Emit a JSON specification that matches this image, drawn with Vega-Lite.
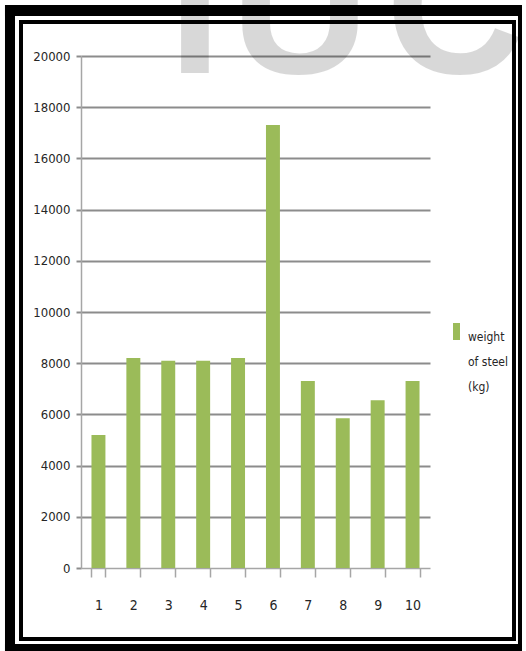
{
  "$schema": "https://vega.github.io/schema/vega-lite/v6.json",
  "width": 349,
  "height": 512,
  "autosize": "none",
  "padding": {"left": 81, "top": 56, "right": 96, "bottom": 83},
  "background": "white",
  "config": {
    "view": {"stroke": null},
    "style": {"guide-label": {"lineHeight": 25}}
  },
  "data": {
    "values": [
      {"n": 1, "w": 5200, "series": "weight of steel (kg)"},
      {"n": 2, "w": 8200, "series": "weight of steel (kg)"},
      {"n": 3, "w": 8100, "series": "weight of steel (kg)"},
      {"n": 4, "w": 8100, "series": "weight of steel (kg)"},
      {"n": 5, "w": 8200, "series": "weight of steel (kg)"},
      {"n": 6, "w": 17300, "series": "weight of steel (kg)"},
      {"n": 7, "w": 7300, "series": "weight of steel (kg)"},
      {"n": 8, "w": 5850, "series": "weight of steel (kg)"},
      {"n": 9, "w": 6550, "series": "weight of steel (kg)"},
      {"n": 10, "w": 7300, "series": "weight of steel (kg)"}
    ]
  },
  "resolve": {"scale": {"x": "independent"}},
  "layer": [
    {
      "data": {"values": [{"t": "I"}]},
      "mark": {"type": "text", "font": "Liberation Sans", "fontWeight": "bold", "fontSize": 192, "color": "#000000", "opacity": 0.15, "align": "center", "baseline": "alphabetic"},
      "encoding": {
        "text": {"field": "t"},
        "x": {"datum": 3.766, "type": "quantitative", "scale": {"domain": [0.5, 10.5], "nice": false, "zero": false}, "axis": null},
        "y": {"datum": 19336, "type": "quantitative", "scale": {"domain": [0, 20000], "nice": false}}
      }
    },
    {
      "data": {"values": [{"t": "U"}]},
      "mark": {"type": "text", "font": "Liberation Sans", "fontWeight": "bold", "fontSize": 192, "color": "#000000", "opacity": 0.15, "align": "center", "baseline": "alphabetic"},
      "encoding": {
        "text": {"field": "t"},
        "x": {"datum": 6.775, "type": "quantitative", "scale": {"domain": [0.5, 10.5], "nice": false, "zero": false}, "axis": null},
        "y": {"datum": 19336, "type": "quantitative", "scale": {"domain": [0, 20000], "nice": false}}
      }
    },
    {
      "data": {"values": [{"t": "C"}]},
      "mark": {"type": "text", "font": "Liberation Sans", "fontWeight": "bold", "fontSize": 192, "color": "#000000", "opacity": 0.15, "align": "center", "baseline": "alphabetic"},
      "encoding": {
        "text": {"field": "t"},
        "x": {"datum": 11.216, "type": "quantitative", "scale": {"domain": [0.5, 10.5], "nice": false, "zero": false}, "axis": null},
        "y": {"datum": 19336, "type": "quantitative", "scale": {"domain": [0, 20000], "nice": false}}
      }
    },
    {
      "mark": {"type": "bar"},
      "encoding": {
        "x": {
          "field": "n", "type": "ordinal",
          "scale": {"paddingInner": 0.6, "paddingOuter": 0.3},
          "axis": {
            "title": null, "labelAngle": 0, "tickBand": "extent", "tickSize": 9,
            "labelPadding": 21, "labelFont": "DejaVu Sans Condensed",
            "labelFontSize": 14, "labelColor": "#262626",
            "domainColor": "#a6a6a6", "domainWidth": 1.5, "tickColor": "#a6a6a6", "tickWidth": 1.5, "grid": false
          }
        },
        "y": {
          "field": "w", "type": "quantitative",
          "scale": {"domain": [0, 20000], "nice": false},
          "axis": {
            "title": null,
            "values": [0, 2000, 4000, 6000, 8000, 10000, 12000, 14000, 16000, 18000, 20000],
            "format": "d",
            "grid": true,
            "gridColor": {"condition": {"test": "datum.value === 0", "value": null}, "value": "#8c8c8c"},
            "gridWidth": 2,
            "tickSize": 5, "tickColor": "#8c8c8c", "tickWidth": 2,
            "domainColor": "#a6a6a6", "domainWidth": 1.5,
            "labelPadding": 6, "labelFont": "DejaVu Sans Condensed",
            "labelFontSize": 13, "labelColor": "#262626"
          }
        },
        "color": {
          "field": "series", "type": "nominal",
          "scale": {"range": ["#9BBB59"]},
          "legend": {
            "title": null, "orient": "none", "legendX": 367, "legendY": 267, "padding": 0,
            "symbolType": "M-0.41,-1H0.41V1H-0.41Z", "symbolSize": 289, "symbolStrokeWidth": 0,
            "labelFont": "DejaVu Sans Condensed",
            "labelFontSize": 12, "labelColor": "#262626", "labelBaseline": "top", "labelOffset": 3,
            "labelExpr": "['weight', 'of steel', '(kg)']", "labelLimit": 0
          }
        }
      }
    },
    {
      "data": {"values": [{}]},
      "mark": {"type": "rect", "color": "black"},
      "encoding": {
        "x": {"datum": -1.678, "type": "quantitative", "scale": {"domain": [0.5, 10.5], "nice": false, "zero": false}, "axis": null},
        "x2": {"datum": 13.136},
        "y": {"datum": 21992, "type": "quantitative", "scale": {"domain": [0, 20000], "nice": false}},
        "y2": {"datum": 21562}
      }
    },
    {
      "data": {"values": [{}]},
      "mark": {"type": "rect", "color": "black"},
      "encoding": {
        "x": {"datum": -1.678, "type": "quantitative", "scale": {"domain": [0.5, 10.5], "nice": false, "zero": false}, "axis": null},
        "x2": {"datum": -1.391},
        "y": {"datum": 21992, "type": "quantitative", "scale": {"domain": [0, 20000], "nice": false}},
        "y2": {"datum": -3242}
      }
    },
    {
      "data": {"values": [{}]},
      "mark": {"type": "rect", "color": "black"},
      "encoding": {
        "x": {"datum": 13.021, "type": "quantitative", "scale": {"domain": [0.5, 10.5], "nice": false, "zero": false}, "axis": null},
        "x2": {"datum": 13.136},
        "y": {"datum": 21992, "type": "quantitative", "scale": {"domain": [0, 20000], "nice": false}},
        "y2": {"datum": -3242}
      }
    },
    {
      "data": {"values": [{}]},
      "mark": {"type": "rect", "color": "black"},
      "encoding": {
        "x": {"datum": -1.678, "type": "quantitative", "scale": {"domain": [0.5, 10.5], "nice": false, "zero": false}, "axis": null},
        "x2": {"datum": 13.136},
        "y": {"datum": -2969, "type": "quantitative", "scale": {"domain": [0, 20000], "nice": false}},
        "y2": {"datum": -3242}
      }
    },
    {
      "data": {"values": [{}]},
      "mark": {"type": "rect", "color": "black"},
      "encoding": {
        "x": {"datum": -1.276, "type": "quantitative", "scale": {"domain": [0.5, 10.5], "nice": false, "zero": false}, "axis": null},
        "x2": {"datum": 12.964},
        "y": {"datum": 21406, "type": "quantitative", "scale": {"domain": [0, 20000], "nice": false}},
        "y2": {"datum": 21250}
      }
    },
    {
      "data": {"values": [{}]},
      "mark": {"type": "rect", "color": "black"},
      "encoding": {
        "x": {"datum": -1.276, "type": "quantitative", "scale": {"domain": [0.5, 10.5], "nice": false, "zero": false}, "axis": null},
        "x2": {"datum": -1.162},
        "y": {"datum": 21406, "type": "quantitative", "scale": {"domain": [0, 20000], "nice": false}},
        "y2": {"datum": -2852}
      }
    },
    {
      "data": {"values": [{}]},
      "mark": {"type": "rect", "color": "black"},
      "encoding": {
        "x": {"datum": 12.85, "type": "quantitative", "scale": {"domain": [0.5, 10.5], "nice": false, "zero": false}, "axis": null},
        "x2": {"datum": 12.964},
        "y": {"datum": 21406, "type": "quantitative", "scale": {"domain": [0, 20000], "nice": false}},
        "y2": {"datum": -2852}
      }
    },
    {
      "data": {"values": [{}]},
      "mark": {"type": "rect", "color": "black"},
      "encoding": {
        "x": {"datum": -1.276, "type": "quantitative", "scale": {"domain": [0.5, 10.5], "nice": false, "zero": false}, "axis": null},
        "x2": {"datum": 12.964},
        "y": {"datum": -2695, "type": "quantitative", "scale": {"domain": [0, 20000], "nice": false}},
        "y2": {"datum": -2852}
      }
    }
  ]
}
